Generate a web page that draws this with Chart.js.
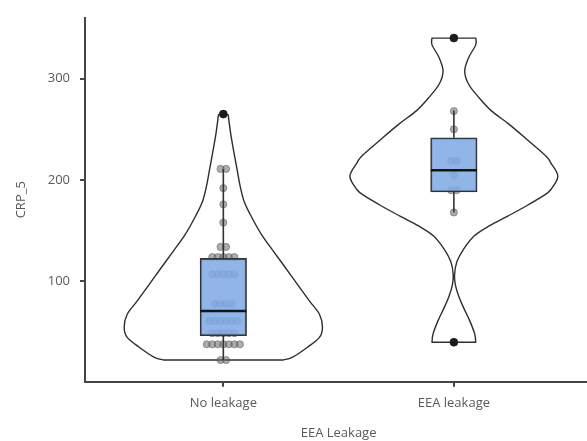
<!DOCTYPE html>
<html>
<head>
<meta charset="utf-8">
<script src="https://cdn.jsdelivr.net/npm/chart.js@4/dist/chart.umd.min.js"></script>
<style>
  html, body { margin: 0; padding: 0; background: #fff; overflow: hidden; }
  #wrap { position: relative; width: 597px; height: 441px; }
</style>
</head>
<body>
<div id="wrap"><canvas id="c"></canvas></div>
<script>
// Groups on the x axis (positions 1 and 2)
const categories = ['No leakage', 'EEA leakage'];
const yTicks = [100, 200, 300];

// Violin outlines: CRP_5 levels and half-widths (in x-axis units)
const violinNoLeakY = [22.5, 25.4, 35.1, 44.8, 54.6, 67.6, 80.6, 96.8, 113, 129.2, 145.4, 161.6, 177.8, 194, 209.9, 242.9, 264.5];
const violinNoLeakW = [0.258, 0.301, 0.365, 0.417, 0.430, 0.417, 0.374, 0.322, 0.271, 0.219, 0.168, 0.127, 0.092, 0.073, 0.060, 0.034, 0.021];
const violinEeaY = [40, 48.5, 61.1, 73.7, 85.4, 97.1, 106.9, 119.5, 132.2, 145.3, 155, 164.7, 174.4, 184.3, 190.7, 203.7, 216.7, 223.5, 239, 255.6, 268.2, 281.8, 294.5, 307.4, 320.7, 333.3, 340];
const violinEeaW = [0.095, 0.090, 0.069, 0.043, 0.021, 0.006, 0.003, 0.013, 0.043, 0.090, 0.155, 0.236, 0.314, 0.387, 0.421, 0.451, 0.421, 0.400, 0.322, 0.236, 0.163, 0.107, 0.064, 0.047, 0.064, 0.095, 0.095];

// Box summaries per group: [lower whisker, Q1, median, Q3, upper whisker]
const boxNoLeak = [22.5, 46.5, 70.8, 122.7, 210.8];
const boxEea = [168, 188.2, 209.6, 241.7, 268.5];
const outliersNoLeak = [265];
const outliersEea = [40, 340];

// Individual observations (stacked side by side when equal)
const pointsNoLeak = [22.5, 22.5, 38, 38, 38, 38, 38, 38, 38, 49, 49, 49, 49, 49, 61, 61, 61, 61, 61, 61,
  78, 78, 78, 78, 107, 107, 107, 107, 107, 124, 124, 124, 124, 124, 134, 134, 158, 176, 192, 211, 211, 265];
const pointsEea = [40, 168, 190, 190, 205, 219, 219, 250, 268, 340];

const BOX_HALF = 0.1;
const DOT_STEP = 0.024;

function stackDots(values, centre) {
  const counts = {};
  values.forEach(v => counts[v] = (counts[v] || 0) + 1);
  const out = [];
  Object.keys(counts).forEach(k => {
    const n = counts[k];
    for (let i = 0; i < n; i++) out.push({ x: centre + (i - (n - 1) / 2) * DOT_STEP, y: +k });
  });
  return out;
}

function boxDatasets(box, centre) {
  const line = { type: 'line', showLine: true, pointRadius: 0, borderColor: '#333', borderWidth: 1.6, order: 4 };
  return [
    Object.assign({}, line, { data: [{ x: centre, y: box[0] }, { x: centre, y: box[1] }] }),
    Object.assign({}, line, { data: [{ x: centre, y: box[3] }, { x: centre, y: box[4] }] }),
    Object.assign({}, line, { data: [{ x: centre - BOX_HALF, y: box[2] }, { x: centre + BOX_HALF, y: box[2] }],
      borderColor: '#151515', borderWidth: 2.6, order: 2 })
  ];
}

// Draws each violin outline with a smooth spline through its half-widths
const violinPlugin = {
  id: 'violins',
  beforeDatasetsDraw(chart) {
    const { ctx, scales: { x, y } } = chart;
    const violins = [
      { c: 1, ys: violinNoLeakY, ws: violinNoLeakW },
      { c: 2, ys: violinEeaY, ws: violinEeaW }
    ];
    function spline(pts, first) {
      if (first) ctx.moveTo(pts[0].x, pts[0].y); else ctx.lineTo(pts[0].x, pts[0].y);
      for (let i = 0; i < pts.length - 1; i++) {
        const p0 = pts[Math.max(i - 1, 0)], p1 = pts[i], p2 = pts[i + 1], p3 = pts[Math.min(i + 2, pts.length - 1)];
        ctx.bezierCurveTo(p1.x + (p2.x - p0.x) / 6, p1.y + (p2.y - p0.y) / 6,
                          p2.x - (p3.x - p1.x) / 6, p2.y - (p3.y - p1.y) / 6, p2.x, p2.y);
      }
    }
    ctx.save();
    ctx.strokeStyle = '#2e2e2e';
    ctx.lineWidth = 1.4;
    ctx.lineJoin = 'round';
    violins.forEach(v => {
      const left = v.ys.map((val, i) => ({ x: x.getPixelForValue(v.c - v.ws[i]), y: y.getPixelForValue(val) }));
      const right = v.ys.map((val, i) => ({ x: x.getPixelForValue(v.c + v.ws[i]), y: y.getPixelForValue(val) })).reverse();
      ctx.beginPath();
      spline(left, true);
      spline(right, false);
      ctx.closePath();
      ctx.stroke();
    });
    ctx.restore();
  }
};

const textColor = '#5a5a5a';
const axisColor = '#454545';
const font = { family: "'Open Sans', 'DejaVu Sans', sans-serif", size: 13 };

new Chart(document.getElementById('c'), {
  type: 'scatter',
  data: {
    datasets: [
      { type: 'scatter', data: stackDots(pointsNoLeak, 1).concat(stackDots(pointsEea, 2)),
        pointRadius: 3.6, backgroundColor: 'rgba(105,105,105,0.55)', borderColor: 'rgba(70,70,70,0.55)', borderWidth: 0.8, order: 5 },
      { type: 'bar', data: [{ x: 1, y: [boxNoLeak[1], boxNoLeak[3]] }, { x: 2, y: [boxEea[1], boxEea[3]] }],
        barThickness: 46.5, backgroundColor: 'rgba(128,172,226,0.88)', borderColor: '#333', borderWidth: 1.6,
        borderSkipped: false, order: 3 },
      ...boxDatasets(boxNoLeak, 1),
      ...boxDatasets(boxEea, 2),
      { type: 'scatter', data: outliersNoLeak.map(v => ({ x: 1, y: v })).concat(outliersEea.map(v => ({ x: 2, y: v }))),
        pointRadius: 4, backgroundColor: '#1c1c1c', borderColor: '#1c1c1c', borderWidth: 0.5, order: 1 }
    ]
  },
  options: {
    responsive: true,
    maintainAspectRatio: false,
    devicePixelRatio: 1,
    animation: false,
    layout: { padding: { top: 12.7, left: 0, right: 0, bottom: 0 } },
    plugins: { legend: { display: false }, tooltip: { enabled: false } },
    scales: {
      x: {
        type: 'linear', min: 0.4, max: 2.6, offset: false,
        afterBuildTicks: s => { s.ticks = [1, 2].map(v => ({ value: v })); },
        afterFit: s => { s.height = 59.3; },
        ticks: { callback: (v, i) => categories[i], color: textColor, font, padding: 9, maxRotation: 0, autoSkip: false },
        grid: { offset: false, drawOnChartArea: false, tickLength: 5, color: axisColor, lineWidth: 2 },
        border: { display: true, color: axisColor, width: 2 },
        title: { display: true, text: 'EEA Leakage', color: textColor, font, padding: { top: 0, bottom: 0 } }
      },
      y: {
        type: 'linear', min: 1.1, max: 360,
        afterBuildTicks: s => { s.ticks = yTicks.map(v => ({ value: v })); },
        afterFit: s => { s.width = 85; },
        ticks: { color: textColor, font, padding: 10 },
        grid: { drawOnChartArea: false, tickLength: 5, color: axisColor, lineWidth: 2 },
        border: { display: true, color: axisColor, width: 2 },
        title: { display: true, text: 'CRP_5', color: textColor, font, padding: { top: 13, bottom: 0 } }
      }
    }
  },
  plugins: [violinPlugin]
});
</script>
</body>
</html>
